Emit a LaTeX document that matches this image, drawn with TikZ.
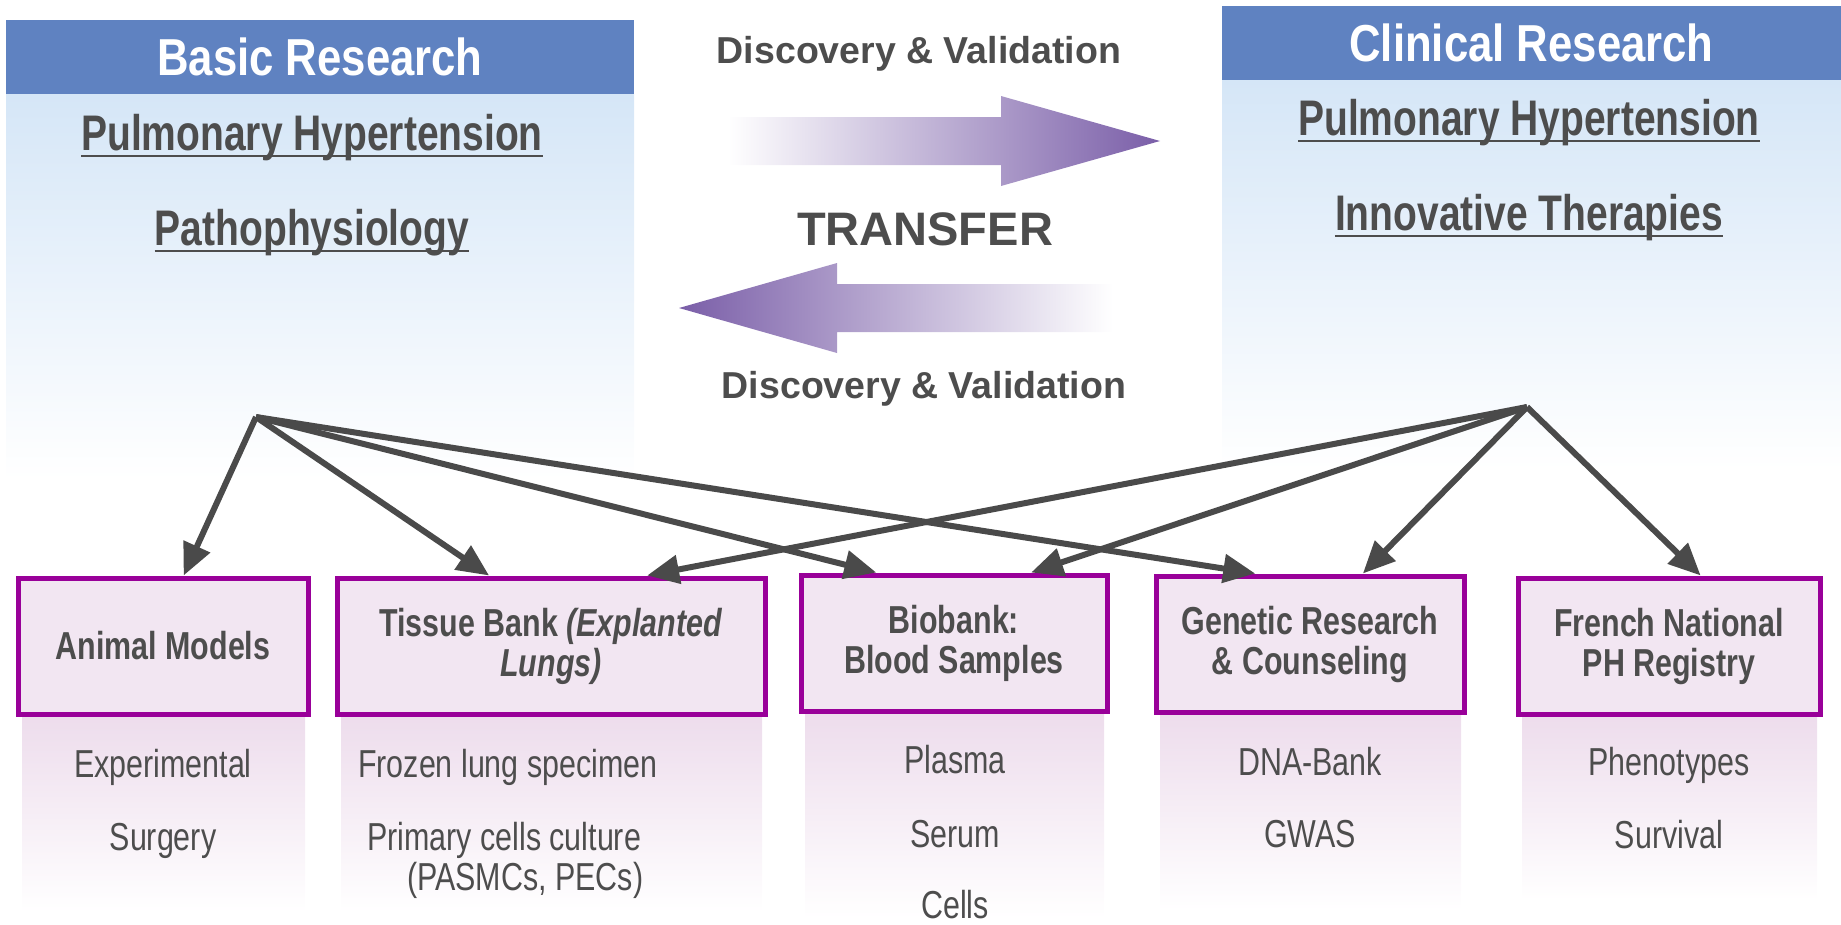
\documentclass[tikz,border=0pt]{standalone}
\usepackage{fontspec}
\setmainfont{Liberation Sans}
\newfontfamily\narrowfont[FakeStretch=0.78]{Liberation Sans}
\newfontfamily\hdrfont[FakeStretch=0.84]{Liberation Sans}
\usetikzlibrary{arrows.meta,calc}
\definecolor{hdrblue}{HTML}{5F82C1}
\definecolor{panelblue}{HTML}{D5E6F7}
\definecolor{txtgray}{HTML}{4D4D4D}
\definecolor{boxpurple}{HTML}{990099}
\definecolor{boxfill}{HTML}{F2E6F2}
\definecolor{subpink}{HTML}{EDDCEC}
\definecolor{arrowpurple}{HTML}{7A5EA8}
\definecolor{arrowgray}{HTML}{4A4A4A}
\tikzset{
  hdr/.style={fill=hdrblue, text=white, inner sep=0pt,
    font=\hdrfont\bfseries\fontsize{52}{60}\selectfont},
  subtitle/.style={text=txtgray, inner sep=0pt, anchor=base,
    font=\narrowfont\bfseries\fontsize{50}{58}\selectfont},
  disc/.style={text=txtgray, inner sep=0pt, anchor=base,
    font=\bfseries\fontsize{37.5}{44}\selectfont},
  transfer/.style={text=txtgray, inner sep=0pt, anchor=base,
    font=\bfseries\fontsize{47}{56}\selectfont},
  resbox/.style={draw=boxpurple, fill=boxfill, line width=5pt, align=center,
    text=txtgray, minimum height=136pt, inner sep=0pt,
    font=\narrowfont\bfseries\fontsize{39}{40}\selectfont},
  subtext/.style={text=txtgray, inner sep=0pt, anchor=base,
    font=\narrowfont\fontsize{39}{40}\selectfont},
  conn/.style={draw=arrowgray, line width=6pt,
    -{Triangle[length=32pt,width=28pt]}},
  uline/.style={draw=txtgray, line width=2.5pt}
}
\begin{document}
\begin{tikzpicture}[x=1pt,y=-1pt]
\useasboundingbox (0,0) rectangle (1841,924);

% panels
\shade[top color=panelblue, bottom color=white] (6,94) rectangle (634,480);
\shade[top color=panelblue, bottom color=white] (1222,80) rectangle (1841,470);
\node[hdr, minimum width=628pt, minimum height=74pt] (basichdr) at (320,57) {Basic Research};
\node[hdr, minimum width=619pt, minimum height=74pt] (clinhdr) at (1531.5,43) {Clinical Research};

% subtitles
\node[subtitle] (lph) at (312,150) {Pulmonary Hypertension};
\node[subtitle] (patho) at (312,245) {Pathophysiology};
\node[subtitle] (rph) at (1529,135) {Pulmonary Hypertension};
\node[subtitle] (innov) at (1529,230) {Innovative Therapies};
\foreach \n in {lph,patho,rph,innov}{
  \draw[uline] ([yshift=-6pt]\n.base west) -- ([yshift=-6pt]\n.base east);
}

% transfer arrows
\shade[left color=white, right color=arrowpurple]
  (728,117) -- (1001,117) -- (1001,96) -- (1160,141) -- (1001,186) -- (1001,165) -- (728,165) -- cycle;
\shade[left color=arrowpurple, right color=white]
  (1113,284) -- (837,284) -- (837,263) -- (679,308) -- (837,353) -- (837,332) -- (1113,332) -- cycle;
\node[disc] (disc1) at (919,63) {Discovery \& Validation};
\node[transfer] (transfer) at (925,245) {TRANSFER};
\node[disc] (disc2) at (924,398) {Discovery \& Validation};

% sub gradients
\shade[top color=subpink, bottom color=white] (22,714) rectangle (305,912);
\shade[top color=subpink, bottom color=white] (341,714) rectangle (762,912);
\shade[top color=subpink, bottom color=white] (805,711) rectangle (1104,918);
\shade[top color=subpink, bottom color=white] (1160,712) rectangle (1461,910);
\shade[top color=subpink, bottom color=white] (1522,714) rectangle (1817,900);

% boxes
\node[resbox, minimum width=290pt] (animal) at (163,646) {Animal Models};
\node[resbox, minimum width=428pt] (tissue) at (551,646) {Tissue Bank \textit{(Explanted}\\\textit{Lungs)}};
\node[resbox, minimum width=306pt] (biobank) at (954,643) {Biobank:\\Blood Samples};
\node[resbox, minimum width=308pt] (genetic) at (1310,644) {Genetic Research\\\& Counseling};
\node[resbox, minimum width=302pt] (french) at (1669,646) {French National\\PH Registry};

% sub texts
\node[subtext] (exp) at (163,777) {Experimental};
\node[subtext] (surg) at (163,850) {Surgery};
\node[subtext, anchor=base west] (frozen) at (358,777) {Frozen lung specimen};
\node[subtext, anchor=base west] (primary) at (367,850) {Primary cells culture};
\node[subtext, anchor=base west] (pasm) at (407,890) {(PASMCs, PECs)};
\node[subtext] (plasma) at (955,773) {Plasma};
\node[subtext] (serum) at (955,847) {Serum};
\node[subtext] (cells) at (955,918) {Cells};
\node[subtext] (dna) at (1310,775) {DNA-Bank};
\node[subtext] (gwas) at (1310,847) {GWAS};
\node[subtext] (pheno) at (1669,775) {Phenotypes};
\node[subtext] (surv) at (1669,848) {Survival};

% hubs and connectors
\coordinate (hubL) at (256,417);
\coordinate (hubR) at (1527,407);
\draw[conn] (hubL) -- ($(animal.north west)!0.57!(animal.north east)$);
\draw[conn] (hubL) -- ($(tissue.north west)!0.357!(tissue.north east)$);
\draw[conn] (hubL) -- ($(biobank.north west)!0.25!(biobank.north east)$);
\draw[conn] (hubL) -- ($(genetic.north west)!0.325!(genetic.north east)$);
\draw[conn] (hubR) -- ($(tissue.north west)!0.722!(tissue.north east)$);
\draw[conn] (hubR) -- ($(biobank.north west)!0.748!(biobank.north east)$);
\draw[conn] (hubR) -- ($(genetic.north west)!0.669!(genetic.north east)$);
\draw[conn] (hubR) -- ($(french.north west)!0.603!(french.north east)$);
\end{tikzpicture}
\end{document}
